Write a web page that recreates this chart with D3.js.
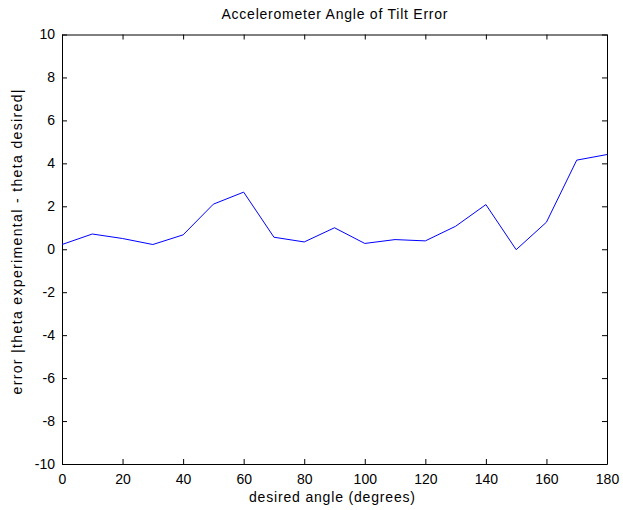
<!DOCTYPE html>
<html lang="en">
<head>
<meta charset="utf-8">
<title>Accelerometer Angle of Tilt Error</title>
<style>
  body { margin: 0; background: #fff; }
  svg { display: block; }
  text { font-family: "Liberation Sans", Arial, sans-serif; fill: #000; }
</style>
<script src="https://cdn.jsdelivr.net/npm/d3@7"></script>
</head>
<body>
<script>
// data
var angles = [0, 10, 20, 30, 40, 50, 60, 70, 80, 90, 100, 110, 120, 130, 140, 150, 160, 170, 180];
var errors = [0.22, 0.71, 0.50, 0.22, 0.67, 2.10, 2.66, 0.56, 0.34, 1.00, 0.27, 0.45, 0.39, 1.07, 2.08, -0.02, 1.26, 4.15, 4.41];
var xTicks = [0, 20, 40, 60, 80, 100, 120, 140, 160, 180];
var yTicks = [-10, -8, -6, -4, -2, 0, 2, 4, 6, 8, 10];

var width = 623, height = 510;
// plot box (note: "top" is taken by window.top, so use other names)
var x0 = 62, x1 = 607, y0 = 34.5, y1 = 464;

var svg = d3.select("body").append("svg")
  .attr("width", width)
  .attr("height", height);

var x = d3.scaleLinear().domain([0, 180]).range([x0, x1]);
var y = d3.scaleLinear().domain([-10, 10]).range([y1, y0]);

// plain hyphen for negatives, like the original
var plain = function(d) { return String(d); };

// ticks go inward, on all four sides
svg.append("g").attr("transform", "translate(0," + y1 + ")")
  .call(d3.axisBottom(x).tickValues(xTicks).tickFormat(plain).tickSizeInner(-5).tickSizeOuter(0).tickPadding(10))
  .call(fmt);
svg.append("g").attr("transform", "translate(0," + y0 + ")")
  .call(d3.axisTop(x).tickValues(xTicks).tickSizeInner(-5).tickSizeOuter(0).tickFormat(""))
  .call(fmt);
svg.append("g").attr("transform", "translate(" + x0 + ",0)")
  .call(d3.axisLeft(y).tickValues(yTicks).tickFormat(plain).tickSizeInner(-5).tickSizeOuter(0).tickPadding(7))
  .call(fmt);
svg.append("g").attr("transform", "translate(" + x1 + ",0)")
  .call(d3.axisRight(y).tickValues(yTicks).tickSizeInner(-5).tickSizeOuter(0).tickFormat(""))
  .call(fmt);

function fmt(g) {
  g.select(".domain").attr("stroke", "#000").attr("stroke-width", 1);
  g.selectAll(".tick line").attr("stroke", "#000");
  g.selectAll(".tick text")
    .style("font-family", '"Liberation Sans", Arial, sans-serif')
    .style("font-size", "14px")
    .attr("fill", "#000");
}

var line = d3.line()
  .x(function(d, i) { return x(angles[i]); })
  .y(function(d) { return y(d); });

svg.append("path")
  .datum(errors)
  .attr("d", line)
  .attr("fill", "none")
  .attr("stroke", "#0000ff")
  .attr("stroke-width", 1);

svg.append("text")
  .attr("x", 334.5)
  .attr("y", 19)
  .attr("text-anchor", "middle")
  .attr("textLength", 226)
  .attr("lengthAdjust", "spacing")
  .style("font-size", "14px")
  .text("Accelerometer Angle of Tilt Error");

svg.append("text")
  .attr("x", 332)
  .attr("y", 502)
  .attr("text-anchor", "middle")
  .attr("textLength", 166)
  .attr("lengthAdjust", "spacing")
  .style("font-size", "14px")
  .text("desired angle (degrees)");

svg.append("text")
  .attr("transform", "translate(22,242) rotate(-90)")
  .attr("text-anchor", "middle")
  .attr("textLength", 305)
  .attr("lengthAdjust", "spacing")
  .style("font-size", "14px")
  .text("error |theta experimental - theta desired|");
</script>
</body>
</html>
